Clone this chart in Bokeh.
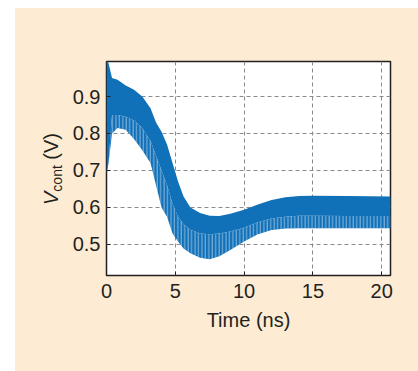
from bokeh.plotting import figure
from bokeh.models import Range1d, FixedTicker, Spacer, ColumnDataSource, Div
from bokeh.layouts import column, row
from bokeh.embed import file_html
from bokeh.resources import INLINE

# Control-voltage transient: envelope of the ripple read per time point
time_ns = [0.0, 0.15, 0.4, 0.8, 1.4, 2.0, 2.6, 3.2, 3.6, 4.0, 4.4, 4.8, 5.2, 5.6,
           6.1, 6.8, 7.5, 8.2, 9.0, 10.0, 11.0, 12.0, 13.0, 14.0, 15.0, 17.5, 20.65]
v_peak = [1.0, 0.99, 0.95, 0.945, 0.93, 0.918, 0.9, 0.868, 0.83, 0.805, 0.77, 0.72,
          0.67, 0.63, 0.60, 0.585, 0.578, 0.577, 0.583, 0.594, 0.608, 0.62, 0.628,
          0.631, 0.632, 0.631, 0.63]
v_body = [0.69, 0.72, 0.85, 0.85, 0.845, 0.835, 0.815, 0.78, 0.74, 0.70, 0.66, 0.61,
          0.575, 0.555, 0.54, 0.53, 0.528, 0.53, 0.535, 0.545, 0.56, 0.57, 0.575,
          0.578, 0.578, 0.577, 0.577]
v_trough = [0.69, 0.72, 0.80, 0.815, 0.81, 0.785, 0.755, 0.72, 0.66, 0.60, 0.575,
            0.53, 0.508, 0.489, 0.476, 0.464, 0.46, 0.468, 0.485, 0.508, 0.528,
            0.539, 0.543, 0.544, 0.544, 0.544, 0.544]

x_ticks = [0, 5, 10, 15, 20]
y_ticks = [0.5, 0.6, 0.7, 0.8, 0.9]

BLUE = "#1070b8"
INK = "#231f20"
PANEL = "#fdebd3"
FONT = "Liberation Sans"

src = ColumnDataSource(dict(t=time_ns, hi=v_peak, mid=v_body, lo=v_trough))

p = figure(width=353, height=363, output_backend="svg", toolbar_location=None,
           x_range=Range1d(0, 20.64), y_range=Range1d(0.4162, 0.9946),
           frame_width=284, frame_height=214,
           min_border_left=41, min_border_right=28, min_border_top=53,
           min_border_bottom=96)
p.border_fill_color = PANEL
p.background_fill_color = "white"
p.outline_line_color = INK
p.outline_line_width = 1.5

# solid core of the ripple band
p.varea(x="t", y1="mid", y2="hi", source=src, fill_color=BLUE)
# lower spikes of the ripple: blue with thin light gaps between cycles
p.varea(x="t", y1="lo", y2="mid", source=src, fill_color=BLUE,
        hatch_pattern="vertical_line", hatch_color="#e4eff8",
        hatch_scale=3.44, hatch_weight=0.6)

for ax in (p.xaxis[0], p.yaxis[0]):
    ax.axis_line_color = None
    ax.major_tick_in = 4
    ax.major_tick_out = 0
    ax.major_tick_line_color = INK
    ax.minor_tick_line_color = None
    ax.major_label_text_font = FONT
    ax.major_label_text_font_size = "20px"
    ax.major_label_text_color = INK

p.xaxis.ticker = FixedTicker(ticks=x_ticks)
p.yaxis.ticker = FixedTicker(ticks=y_ticks)
p.xaxis.major_label_standoff = 8
p.yaxis.major_label_standoff = 6

p.xaxis.axis_label = "Time (ns)"
p.xaxis.axis_label_text_font = FONT
p.xaxis.axis_label_text_font_size = "20px"
p.xaxis.axis_label_text_font_style = "normal"
p.xaxis.axis_label_text_color = INK
p.xaxis.axis_label_standoff = 8

p.grid.grid_line_color = "#8a8a8a"
p.grid.grid_line_dash = "4 3"
p.grid.grid_line_width = 1

# vertical y-axis title with an italic V and a subscript, set as rotated HTML
ylabel_html = (
    '<div style="position:relative; left:26px; top:197px; width:max-content;'
    ' transform-origin:0 0; transform:rotate(-90deg); white-space:nowrap;'
    f" font-family:'{FONT}'; font-size:20px; line-height:20px; color:{INK};\">"
    '<i>V</i><span style="font-size:14px; position:relative; top:4px;">cont</span>'
    '&nbsp;(V)</div>'
)
ylabel = Div(text=ylabel_html, width=50, height=363,
             styles={"background-color": PANEL, "margin": "0", "padding": "0"})

panel = row(ylabel, p, styles={"background-color": PANEL})
page = column(Spacer(height=8), row(Spacer(width=15), panel))

with open("out.html", "w") as f:
    f.write(file_html(page, INLINE))
